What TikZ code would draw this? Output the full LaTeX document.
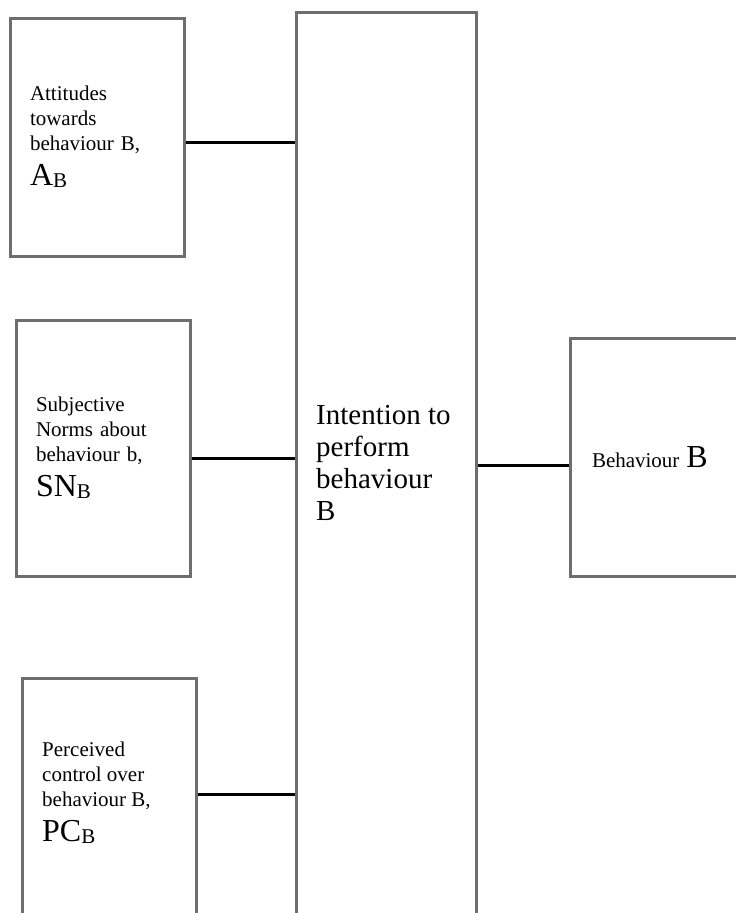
\documentclass[tikz,border=0pt]{standalone}
\usepackage{fontspec}
\setmainfont{Liberation Serif}
\usepackage{tikz}

\definecolor{boxgray}{RGB}{110,110,110}
\newcommand{\bigsub}[2]{{\fontsize{32}{32}\selectfont #1}\raisebox{-2pt}{#2}}

\begin{document}
\begin{tikzpicture}[x=1pt, y=-1pt,
        factor/.style={draw=boxgray, line width=3pt, rectangle, inner xsep=20pt, inner ysep=0pt,
            text width=134pt, align=left, font=\fontsize{21}{25}\selectfont},
        link/.style={black, line width=3pt}]
        \useasboundingbox (0,0) rectangle (736,913);
        \clip (0,0) rectangle (736,913);

        \node[factor, minimum height=238pt] (att) at (97,137) {Attitudes\\towards\\behaviour B,\\[10pt]\bigsub{A}{B}};
        \node[factor, minimum height=256pt] (sn) at (103,448) {Subjective\\Norms about\\behaviour b,\\[10pt]\bigsub{SN}{B}};
        \node[factor, minimum height=264pt] (pc) at (109,810) {};
        \node[anchor=west, inner sep=0pt, align=left, font=\fontsize{21}{25}\selectfont] (pctext) at (42,793) {Perceived\\control over\\behaviour B,\\[10pt]\bigsub{PC}{B}};

        \node[draw=boxgray, line width=3pt, minimum width=180pt, minimum height=960pt] (int) at (386,492) {};
        \node[anchor=north west, inner sep=0pt, align=left, font=\fontsize{29}{32}\selectfont] (inttext) at (316,405) {Intention to\\perform\\behaviour\\B};

        \node[factor, minimum height=238pt, text width=140pt, inner xsep=22pt] (beh) at (662,457) {Behaviour {\fontsize{32}{32}\selectfont B}};

        \draw[link] ([yshift=-5pt]att.east) -- ([yshift=-5pt]att.east -| int.west);
        \draw[link] ([yshift=-10pt]sn.east) -- ([yshift=-10pt]sn.east -| int.west);
        \draw[link] ([yshift=16pt]pc.east) -- ([yshift=16pt]pc.east -| int.west);
        \draw[link] ([yshift=-8pt]beh.west -| int.east) -- ([yshift=-8pt]beh.west);
\end{tikzpicture}
\end{document}
